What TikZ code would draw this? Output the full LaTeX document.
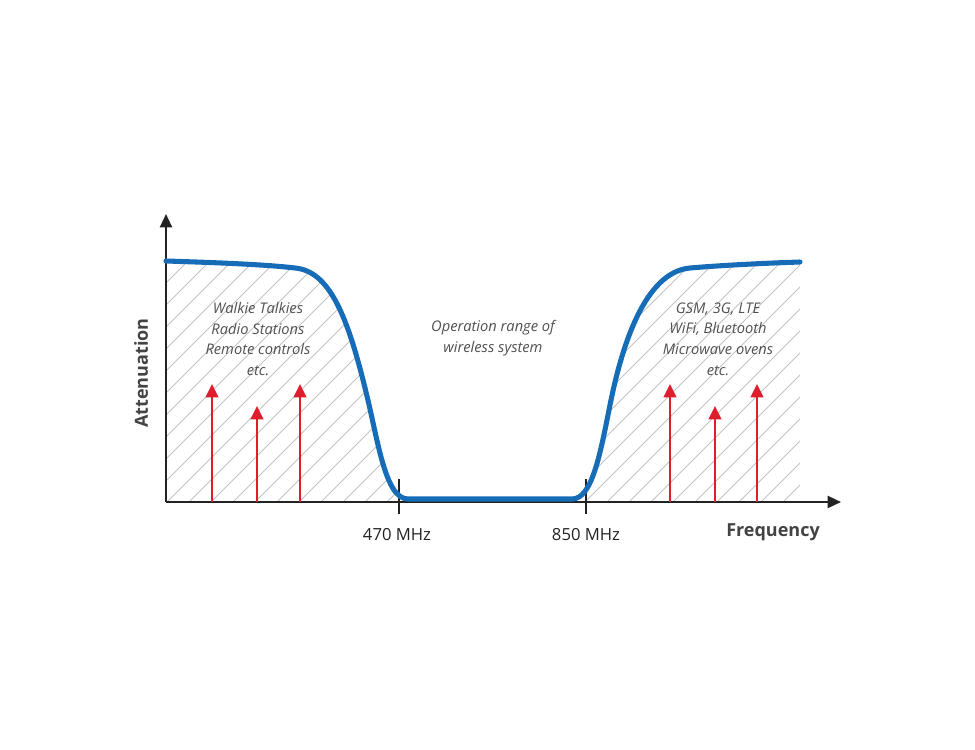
\documentclass[tikz,border=0pt]{standalone}
\usepackage{fontspec}
\setmainfont{Open Sans}
\usetikzlibrary{arrows.meta}
\definecolor{curveblue}{RGB}{22,108,182}
\definecolor{sigred}{RGB}{222,30,45}
\definecolor{axisgray}{RGB}{34,34,34}
\definecolor{hatchgray}{RGB}{195,195,195}
\definecolor{labelgray}{RGB}{80,80,80}

\begin{document}
\begin{tikzpicture}[x=0.75pt,y=-0.75pt,
  axis/.style={draw=axisgray,line width=1.7pt,-{Triangle[width=9pt,length=10pt]}},
  hatch/.style={draw=hatchgray,line width=0.6pt},
  tickmark/.style={draw=axisgray,line width=1.1pt},
  signal/.style={draw=sigred,line width=1.7pt,-{Triangle[width=9.5pt,length=10pt]}},
  response/.style={draw=curveblue,line width=3.8pt,line cap=round,line join=round},
  band/.style={font=\itshape\fontsize{11}{15.5}\selectfont,text=labelgray,align=center},
  ticklabel/.style={font=\fontsize{12.5}{14}\selectfont,text=axisgray},
  axislabel/.style={font=\bfseries\fontsize{13.5}{16}\selectfont,text=axisgray!85!white}]
\useasboundingbox (0,0) rectangle (975,750);
\coordinate (o) at (166,502);
\coordinate (ytop) at (166,214);
\coordinate (xend) at (841,502);
\coordinate (f470) at (399,502);
\coordinate (f850) at (586,502);
\begin{scope}
\clip (166,502) -- (166,261) .. controls (230,263) and (270,265) .. (295,268)
  .. controls (330,271) and (348,318) .. (366,392)
  .. controls (378,440) and (385,499) .. (408,499) -- (572,499)
  .. controls (592,499) and (600,455) .. (610,405)
  .. controls (622,345) and (645,272) .. (690,268)
  .. controls (725,265) and (770,263) .. (800,262) -- (800,502) -- cycle;
\foreach \k in {-320,-298,...,800}
  \draw[hatch] (\k,505) -- ++(320,-320);
\end{scope}
\draw[axis] (o) -- (ytop);
\draw[axis] (o) -- (xend);
\draw[tickmark] (f470) ++(0,-23) -- ++(0,35);
\draw[tickmark] (f850) ++(0,-23) -- ++(0,35);
\foreach \x/\y in {212/384,257/406,300/384,670/384,715/406,757/384}
  \draw[signal] (\x,502) -- (\x,\y);
\draw[response] (166,261) .. controls (230,263) and (270,265) .. (295,268)
  .. controls (330,271) and (348,318) .. (366,392)
  .. controls (378,440) and (385,499) .. (408,499) -- (572,499)
  .. controls (592,499) and (600,455) .. (610,405)
  .. controls (622,345) and (645,272) .. (690,268)
  .. controls (725,265) and (770,263) .. (800,262);
\node[ticklabel] (lbl470) at (397,535) {470 MHz};
\node[ticklabel] (lbl850) at (586,535) {850 MHz};
\node[axislabel] (freq) at (773,532) {Frequency};
\node[axislabel,rotate=90] (atten) at (141,373) {Attenuation};
\node[band] (lowband) at (258,339) {Walkie Talkies\\Radio Stations\\Remote controls\\etc.};
\node[band] (passband) at (493,338) {Operation range of\\wireless system};
\node[band] (highband) at (718,339) {GSM, 3G, LTE\\WiFi, Bluetooth\\Microwave ovens\\etc.};
\end{tikzpicture}
\end{document}
